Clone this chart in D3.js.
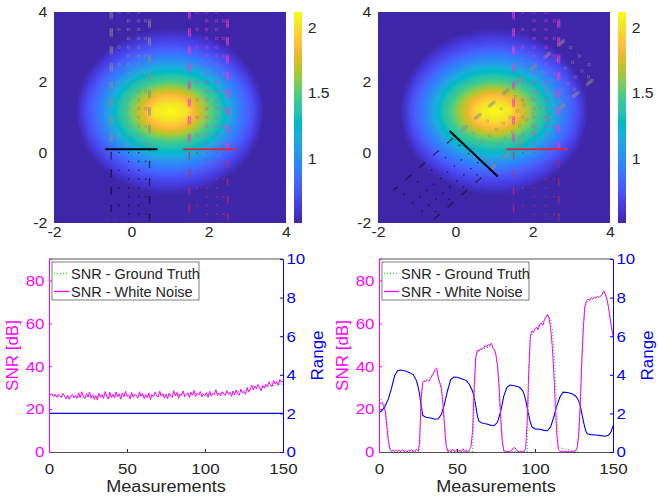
<!DOCTYPE html>
<html>
<head>
<meta charset="utf-8">
<script src="https://cdn.jsdelivr.net/npm/d3@7"></script>
<style>
  body { margin: 0; background: #fff; }
  svg { display: block; }
  text { font-family: "Liberation Sans", Arial, sans-serif; }
</style>
</head>
<body>
<svg width="658" height="497"></svg>
<script>
// ---- colour map (parula, 64 entries) ----
var parula = [
  [0.2422,0.1504,0.6603],[0.2504,0.1650,0.7076],[0.2578,0.1818,0.7511],[0.2647,0.1978,0.7952],
  [0.2706,0.2147,0.8364],[0.2751,0.2342,0.8710],[0.2783,0.2559,0.8991],[0.2803,0.2782,0.9221],
  [0.2813,0.3006,0.9414],[0.2810,0.3228,0.9579],[0.2795,0.3447,0.9717],[0.2760,0.3667,0.9829],
  [0.2699,0.3892,0.9906],[0.2602,0.4123,0.9952],[0.2440,0.4358,0.9988],[0.2206,0.4603,0.9973],
  [0.1963,0.4847,0.9892],[0.1834,0.5074,0.9798],[0.1786,0.5289,0.9682],[0.1764,0.5499,0.9520],
  [0.1687,0.5703,0.9359],[0.1540,0.5902,0.9218],[0.1460,0.6091,0.9079],[0.1380,0.6276,0.8973],
  [0.1248,0.6459,0.8883],[0.1113,0.6635,0.8763],[0.0952,0.6798,0.8598],[0.0689,0.6948,0.8394],
  [0.0297,0.7082,0.8163],[0.0036,0.7203,0.7917],[0.0067,0.7312,0.7660],[0.0433,0.7411,0.7394],
  [0.0964,0.7500,0.7120],[0.1408,0.7584,0.6842],[0.1717,0.7670,0.6554],[0.1938,0.7758,0.6251],
  [0.2161,0.7843,0.5923],[0.2470,0.7918,0.5567],[0.2906,0.7973,0.5188],[0.3406,0.8008,0.4789],
  [0.3909,0.8029,0.4354],[0.4456,0.8024,0.3909],[0.5044,0.7993,0.3480],[0.5616,0.7942,0.3045],
  [0.6174,0.7876,0.2612],[0.6720,0.7793,0.2227],[0.7242,0.7698,0.1910],[0.7738,0.7598,0.1646],
  [0.8203,0.7498,0.1535],[0.8634,0.7406,0.1596],[0.9035,0.7330,0.1774],[0.9393,0.7288,0.2100],
  [0.9728,0.7298,0.2394],[0.9956,0.7434,0.2371],[0.9970,0.7659,0.2199],[0.9952,0.7893,0.2028],
  [0.9892,0.8136,0.1885],[0.9786,0.8386,0.1766],[0.9676,0.8639,0.1643],[0.9610,0.8890,0.1537],
  [0.9597,0.9135,0.1423],[0.9628,0.9373,0.1265],[0.9691,0.9606,0.1064],[0.9769,0.9839,0.0805]];
var colorMin = 0.51, colorMax = 2.12;
var colorTicks = [1, 1.5, 2];

// ---- field: elliptical level sets ----
// level (fraction of colour range) and the half-widths of its contour along x and y
var fieldCenter = [1.0, 1.17];
var levelT  = [0,    0.13, 0.3,  0.48, 0.6,  0.83, 0.94, 1];
var levelRx = [2.43, 2.15, 1.72, 1.41, 1.12, 0.6,  0.43, 0.001];
var levelRy = [2.37, 1.9,  1.47, 1.13, 0.85, 0.47, 0.24, 0.001];

var mapTicks = [-2, 0, 2, 4];

// ---- measurement strips ----
var stripCols = [-0.52, -0.32, -0.07, 0.19, 0.37, 0.47];
var rowPitch = 0.25, rowPhase = -0.1, densePitch = 0.045, denseLen = 0.17;
var arrayHalf = 0.675;
var leftStrips = [
  {origin: [0.0, 0.1], angle: 0, scale: 1, front: "#8c8c8c", back: "#111111", line: "#000000"},
  {origin: [2.02, 0.1], angle: 0, scale: 1, front: "#f03cc8", back: "#e3263e", line: "#d92a3c"}
];
var rightStrips = [
  {origin: [0.475, -0.03], angle: -46, scale: 1.33, front: "#8c8c8c", back: "#111111", line: "#000000"},
  {origin: [2.12, 0.1], angle: 0, scale: 1.18, front: "#f03cc8", back: "#e3263e", line: "#d92a3c"}
];
var stripV = [-2.2, 3.9];

// ---- bottom-left: constant range, noisy SNR ----
var snrNoiseL = [27.5, 26.6, 27.1, 25.8, 26.9, 25.5, 27.0, 26.2, 25.4, 27.3,
  26.1, 24.8, 26.5, 24.6, 25.9, 26.8, 25.2, 26.4, 25.0, 27.6,
  25.3, 28.1, 26.0, 24.9, 27.2, 25.6, 28.0, 25.1, 26.7, 24.5,
  26.3, 24.2, 27.4, 25.5, 26.8, 25.0, 28.2, 26.1, 24.7, 27.9,
  25.4, 26.9, 25.2, 28.0, 25.8, 27.1, 24.6, 27.5, 25.7, 28.3,
  25.9, 26.6, 24.8, 27.8, 25.5, 27.0, 26.2, 25.1, 28.1, 26.0,
  27.3, 24.9, 26.8, 25.3, 27.5, 24.4, 26.7, 25.8, 27.9, 26.3,
  25.6, 28.4, 26.0, 27.2, 25.1, 26.9, 24.8, 27.4, 26.1, 25.3,
  28.6, 26.2, 27.8, 25.0, 27.1, 26.4, 28.5, 25.7, 26.8, 27.6,
  25.4, 27.9, 26.5, 28.7, 25.9, 27.3, 26.6, 28.2, 25.8, 27.0,
  26.2, 27.7, 25.6, 28.3, 26.0, 27.4, 26.8, 29.0, 26.3, 27.5,
  26.1, 28.1, 27.0, 26.4, 28.6, 26.9, 27.8, 25.9, 28.4, 26.7,
  28.9, 27.1, 26.5, 29.3, 27.6, 28.2, 26.9, 30.1, 28.0, 29.4,
  31.2, 29.0, 30.8, 29.5, 31.5, 30.2, 28.6, 31.0, 29.8, 31.6,
  30.4, 32.8, 31.0, 30.5, 33.4, 31.7, 32.9, 31.2, 33.8, 32.5, 33.0];
var truthLX = [0, 10, 20, 30, 40, 50, 60, 70, 80, 90, 100, 110, 120, 130, 140, 150];
var truthL = [26.5, 25.8, 25.7, 25.9, 26.2, 26.4, 26.5, 26.6, 26.8, 27.0, 27.2, 27.5, 28.0, 29.2, 30.6, 31.5];
var rangeLX = [0, 150];
var rangeL = [2, 2];

// ---- bottom-right: moving array ----
var snrNoiseR = [23.8, 22.6, 23.0, 21.5, 19, 12, 5, 1.2, 0.3, 0.8,
  0.2, 1.0, 0.4, 0.9, 0.2, 1.1, 0.3, 0.6, 0.1, 0.8,
  0.3, 1.2, 0.2, 0.5, 1.3, 0.4, 4, 25, 32.5, 33.2,
  32.8, 33.5, 33.0, 34.2, 35.5, 36.8, 38.5, 39.2, 34.5, 32.0,
  29.5, 22, 12, 3, 0.4, 0.9, 0.2, 1.4, 0.5, 0.3,
  1.2, 0.4, 0.7, 0.2, 1.5, 0.3, 0.6, 0.2, 1.0, 2.5,
  10, 30, 44, 47.5, 47, 48.2, 47.8, 48.5, 49.6, 48.8,
  50.2, 49.5, 50.8, 48.5, 47.6, 45, 40, 30, 16, 5,
  0.5, 0.2, 0.4, 0.1, 0.3, 0.8, 1.8, 2.0, 1.2, 0.3,
  0.1, 0.2, 0.4, 0.2, 1.5, 14, 38, 54, 56.5, 55.8,
  57.5, 58.2, 57.0, 59.5, 60.2, 59.0, 61.5, 62.8, 64.2, 62.5,
  58, 50, 38, 22, 8, 1, 0.3, 0.2, 0.5, 0.1,
  0.3, 0.2, 0.4, 0.1, 0.3, 0.2, 0.6, 2, 8, 22,
  42, 58, 68, 70.5, 71.2, 70.8, 72.0, 71.5, 72.2, 71.8,
  72.6, 72.0, 72.8, 73.5, 75.2, 73.8, 71.5, 68, 63, 58, 54];
var truthRX = [0, 2, 4, 5, 6, 7, 8, 26, 27, 28, 30, 33, 35, 37, 38, 40, 41, 42, 43, 44,
  60, 61, 62, 63, 65, 68, 70, 72, 74, 75, 76, 77, 78, 79, 80,
  95, 96, 97, 98, 100, 103, 105, 107, 108, 110, 111, 112, 113, 114, 115,
  127, 128, 129, 130, 131, 132, 134, 137, 140, 143, 144, 146, 148, 150];
var truthR = [25.8, 24, 21.5, 16, 8, 2, 0.2, 0.2, 22, 32, 33.5, 34.8, 36.5, 38, 35, 31, 26, 16, 6, 0.3,
  0.3, 22, 43, 46.5, 47.8, 48.2, 49, 49.5, 48, 46, 41, 31, 17, 6, 0.3,
  0.3, 32, 53, 56, 57, 59, 61, 63, 64, 62, 58, 50, 36, 20, 2,
  0.3, 9, 24, 44, 60, 68, 70.5, 71.5, 72, 73, 74.5, 72, 64, 55];
var rangeRX = [0, 2, 4, 6, 8, 10, 12, 14, 17, 20, 22, 24, 25, 26, 27, 28, 30, 33, 36, 38,
  40, 42, 44, 46, 48, 50, 53, 56, 58, 60, 61, 62, 63, 64, 66, 69, 72, 74, 76, 78,
  80, 82, 84, 87, 90, 92, 93, 94, 95, 96, 97, 98, 100, 103, 106, 108, 110, 112, 114, 116,
  118, 121, 124, 126, 127, 128, 129, 130, 131, 132, 133, 134, 136, 139, 142, 145, 147, 148, 149, 150];
var rangeR = [2.05, 2.15, 2.4, 2.75, 3.3, 3.95, 4.22, 4.25, 4.2, 4.1, 4.0, 3.7, 3.4, 3.0, 2.45, 1.9, 1.8, 1.76, 1.7, 1.72,
  1.95, 2.5, 3.2, 3.75, 3.88, 3.87, 3.8, 3.7, 3.5, 3.15, 2.85, 2.4, 1.9, 1.6, 1.5, 1.45, 1.38, 1.37, 1.55, 2.1,
  2.9, 3.35, 3.47, 3.43, 3.35, 3.2, 3.0, 2.7, 2.3, 1.9, 1.55, 1.3, 1.2, 1.18, 1.12, 1.1, 1.3, 1.8, 2.4, 2.85,
  3.1, 3.08, 3.0, 2.9, 2.8, 2.65, 2.4, 2.0, 1.6, 1.25, 1.0, 0.93, 0.9, 0.88, 0.85, 0.82, 0.87, 0.95, 1.1, 1.35];

var snrTicks = [0, 20, 40, 60, 80];
var rangeTicks = [0, 2, 4, 6, 8, 10];
var measTicks = [0, 50, 100, 150];
var legendLabels = ["SNR - Ground Truth", "SNR - White Noise"];

// ---------------------------------------------------------------
var svg = d3.select("svg");
var stretch = 1.13;
var defs = svg.append("defs");
var plain = function(d) { return String(d); };

var color = d3.scaleLinear()
    .domain(parula.map(function(p, i) { return colorMin + i / (parula.length - 1) * (colorMax - colorMin); }))
    .range(parula.map(function(c) { return d3.rgb(c[0] * 255, c[1] * 255, c[2] * 255); }))
    .interpolate(d3.interpolateRgb)
    .clamp(true);
var radX = d3.scaleLinear().domain(levelT).range(levelRx).clamp(true);
var radY = d3.scaleLinear().domain(levelT).range(levelRy).clamp(true);

// find the level whose contour ellipse passes through the point
function fieldLevel(px, py) {
    var dx = px - fieldCenter[0], dy = py - fieldCenter[1];
    function g(t) { var a = dx / radX(t), b = dy / radY(t); return a * a + b * b; }
    if (g(0) >= 1) return 0;
    var lo = 0, hi = 1;
    for (var n = 0; n < 22; n++) {
        var mid = (lo + hi) / 2;
        if (g(mid) < 1) lo = mid; else hi = mid;
    }
    return lo;
}

function stretchText(sel) {
    sel.attr("transform", function() {
        var t = d3.select(this).attr("transform") || "";
        return t + " scale(" + stretch + ",1)";
    });
}

function stripPoints(s) {
    var a = s.angle * Math.PI / 180,
        ux = Math.cos(a), uy = Math.sin(a), vx = -Math.sin(a), vy = Math.cos(a);
    var pts = [];
    function add(u, v) {
        if (v < stripV[0] || v > stripV[1]) return;
        pts.push({x: s.origin[0] + u * s.scale * ux + v * vx,
                  y: s.origin[1] + u * s.scale * uy + v * vy,
                  front: v > 0});
    }
    var kMin = Math.floor((stripV[0] - rowPhase) / rowPitch),
        kMax = Math.ceil((stripV[1] - rowPhase) / rowPitch);
    for (var k = kMin; k <= kMax; k++) {
        var v = rowPhase + k * rowPitch;
        var even = (k % 2 === 0);
        var cols = even ? [0, 1, 2, 3] : [2, 3, 4, 5];
        cols.forEach(function(c) { add(stripCols[c], v); });
        if (even) {
            for (var w = v - denseLen; w <= v + 1e-9; w += densePitch) add(stripCols[0], w);
            for (var w2 = v + rowPitch - denseLen; w2 <= v + rowPitch + 1e-9; w2 += densePitch) add(stripCols[5], w2);
        }
    }
    return pts;
}

function heatPanel(id, x0, x1, cbx, strips) {
    var y0 = 12, y1 = 223;
    var x = d3.scaleLinear().domain([-2, 4]).range([x0, x1]);
    var y = d3.scaleLinear().domain([-2, 4]).range([y1, y0]);
    var w = x1 - x0, h = y1 - y0;

    var cv = document.createElement("canvas");
    cv.width = w; cv.height = h;
    var ctx = cv.getContext("2d");
    var img = ctx.createImageData(w, h);
    for (var j = 0; j < h; j++) {
        for (var i = 0; i < w; i++) {
            var t = fieldLevel(x.invert(x0 + i + 0.5), y.invert(y0 + j + 0.5));
            var c = d3.rgb(color(colorMin + t * (colorMax - colorMin)));
            var o = (j * w + i) * 4;
            img.data[o] = c.r; img.data[o + 1] = c.g; img.data[o + 2] = c.b; img.data[o + 3] = 255;
        }
    }
    ctx.putImageData(img, 0, 0);
    svg.append("image").attr("x", x0).attr("y", y0).attr("width", w).attr("height", h)
        .attr("preserveAspectRatio", "none").attr("href", cv.toDataURL());

    defs.append("clipPath").attr("id", "clip" + id)
        .append("rect").attr("x", x0).attr("y", y0).attr("width", w).attr("height", h);
    var g = svg.append("g").attr("clip-path", "url(#clip" + id + ")");

    strips.forEach(function(s) {
        var pts = stripPoints(s);
        g.selectAll(null).data(pts.filter(function(p) { return p.front; })).enter()
            .append("rect")
            .attr("x", function(p) { return x(p.x) - 1.1; })
            .attr("y", function(p) { return y(p.y) - 1.1; })
            .attr("width", 2.2).attr("height", 2.2)
            .attr("fill", "none").attr("stroke", s.front)
            .attr("stroke-width", 0.7).attr("stroke-opacity", 0.6);
        g.selectAll(null).data(pts.filter(function(p) { return !p.front; })).enter()
            .append("rect")
            .attr("x", function(p) { return x(p.x) - 0.7; })
            .attr("y", function(p) { return y(p.y) - 0.7; })
            .attr("width", 1.4).attr("height", 1.4)
            .attr("fill", s.back).attr("fill-opacity", 0.75);
    });
    strips.forEach(function(s) {
        var a = s.angle * Math.PI / 180, L = arrayHalf * s.scale;
        g.append("line")
            .attr("x1", x(s.origin[0] - L * Math.cos(a))).attr("y1", y(s.origin[1] - L * Math.sin(a)))
            .attr("x2", x(s.origin[0] + L * Math.cos(a))).attr("y2", y(s.origin[1] + L * Math.sin(a)))
            .attr("stroke", s.line).attr("stroke-width", 2);
    });

    var gx = svg.append("g").attr("transform", "translate(0," + y1 + ")")
        .call(d3.axisBottom(x).tickValues(mapTicks).tickFormat(plain).tickSize(0).tickPadding(4));
    var gy = svg.append("g").attr("transform", "translate(" + x0 + ",0)")
        .call(d3.axisLeft(y).tickValues(mapTicks).tickFormat(plain).tickSize(0).tickPadding(6));
    [gx, gy].forEach(function(ga) {
        ga.select(".domain").remove();
        ga.selectAll("text").attr("font-size", 14).style("font-family", null).attr("fill", "#262626");
        stretchText(ga.selectAll("text"));
    });

    // colour bar
    var cb = d3.scaleLinear().domain([colorMin, colorMax]).range([y1, y0]);
    var cc = document.createElement("canvas");
    cc.width = 1; cc.height = h;
    var cctx = cc.getContext("2d");
    for (var k = 0; k < h; k++) {
        cctx.fillStyle = color(cb.invert(y0 + k + 0.5));
        cctx.fillRect(0, k, 1, 1);
    }
    svg.append("image").attr("x", cbx).attr("y", y0).attr("width", 8).attr("height", h)
        .attr("preserveAspectRatio", "none").attr("href", cc.toDataURL());
    var gc = svg.append("g").attr("transform", "translate(" + (cbx + 8) + ",0)")
        .call(d3.axisRight(cb).tickValues(colorTicks).tickFormat(plain).tickSize(0).tickPadding(5));
    gc.select(".domain").remove();
    gc.selectAll("text").attr("font-size", 14).style("font-family", null).attr("fill", "#262626");
    stretchText(gc.selectAll("text"));
}

heatPanel("L", 54, 286, 294, leftStrips);
heatPanel("R", 378, 610, 618, rightStrips);

function linePanel(x0, x1, noise, tX, truth, rX, range) {
    var y0 = 259, y1 = 452;
    var x = d3.scaleLinear().domain([0, 150]).range([x0, x1]);
    var ys = d3.scaleLinear().domain([0, 90]).range([y1, y0]);
    var yr = d3.scaleLinear().domain([0, 10]).range([y1, y0]);

    svg.append("path").datum(rX.map(function(d, i) { return [d, range[i]]; }))
        .attr("fill", "none").attr("stroke", "#0000ff").attr("stroke-width", 1.1)
        .attr("d", d3.line().x(function(d) { return x(d[0]); }).y(function(d) { return yr(d[1]); }));
    svg.append("path").datum(tX.map(function(d, i) { return [d, truth[i]]; }))
        .attr("fill", "none").attr("stroke", "#3fdc3f").attr("stroke-width", 1.2)
        .attr("stroke-dasharray", "1.2,1.8")
        .attr("d", d3.line().x(function(d) { return x(d[0]); }).y(function(d) { return ys(d[1]); }));
    svg.append("path").datum(noise)
        .attr("fill", "none").attr("stroke", "#ff00ff").attr("stroke-width", 1)
        .attr("d", d3.line().x(function(d, i) { return x(i); }).y(function(d) { return ys(d); }));

    // frame
    svg.append("line").attr("x1", x0).attr("x2", x1).attr("y1", y0).attr("y2", y0)
        .attr("stroke", "#262626").attr("stroke-width", 0.8);
    var gb = svg.append("g").attr("transform", "translate(0," + y1 + ")")
        .call(d3.axisBottom(x).tickValues(measTicks).tickFormat(plain).tickSize(-3).tickPadding(11));
    gb.select(".domain").attr("stroke", "#262626").attr("stroke-width", 0.8);
    gb.selectAll(".tick line").attr("stroke", "#262626");
    gb.selectAll("text").attr("font-size", 15).style("font-family", null).attr("fill", "#262626");
    stretchText(gb.selectAll("text"));

    var gl = svg.append("g").attr("transform", "translate(" + x0 + ",0)")
        .call(d3.axisLeft(ys).tickValues(snrTicks).tickFormat(plain).tickSize(-3).tickPadding(4));
    gl.select(".domain").attr("stroke", "#ff00ff");
    gl.selectAll(".tick line").attr("stroke", "#ff00ff");
    gl.selectAll("text").attr("font-size", 15).style("font-family", null).attr("fill", "#ff00ff");
    stretchText(gl.selectAll("text"));

    var gr = svg.append("g").attr("transform", "translate(" + x1 + ",0)")
        .call(d3.axisRight(yr).tickValues(rangeTicks).tickFormat(plain).tickSize(-3).tickPadding(3));
    gr.select(".domain").attr("stroke", "#0000ff");
    gr.selectAll(".tick line").attr("stroke", "#0000ff");
    gr.selectAll("text").attr("font-size", 15).style("font-family", null).attr("fill", "#0000ff");
    stretchText(gr.selectAll("text"));

    svg.append("text").attr("transform", "translate(" + ((x0 + x1) / 2) + ",492) scale(" + stretch + ",1)")
        .attr("text-anchor", "middle").attr("font-size", 16).attr("fill", "#262626").text("Measurements");
    svg.append("text").attr("transform", "translate(" + (x0 - 31) + "," + ((y0 + y1) / 2) + ") rotate(-90)")
        .attr("text-anchor", "middle").attr("font-size", 17).attr("fill", "#ff00ff").text("SNR [dB]");
    svg.append("text").attr("transform", "translate(" + (x1 + 40) + "," + ((y0 + y1) / 2) + ") rotate(-90)")
        .attr("text-anchor", "middle").attr("font-size", 17).attr("fill", "#0000ff").text("Range");

    // legend
    var lg = svg.append("g").attr("transform", "translate(" + (x0 + 3) + "," + (y0 + 3) + ")");
    lg.append("rect").attr("width", 147).attr("height", 38).attr("fill", "#ffffff")
        .attr("stroke", "#262626").attr("stroke-width", 0.6);
    lg.append("line").attr("x1", 2).attr("x2", 17).attr("y1", 11.5).attr("y2", 11.5)
        .attr("stroke", "#3fdc3f").attr("stroke-width", 1.3).attr("stroke-dasharray", "1.2,1.8");
    lg.append("line").attr("x1", 2).attr("x2", 17).attr("y1", 29.5).attr("y2", 29.5)
        .attr("stroke", "#ff00ff").attr("stroke-width", 1.3);
    legendLabels.forEach(function(t, i) {
        lg.append("text").attr("x", 19).attr("y", 16.5 + i * 18)
            .attr("font-size", 14.5).attr("fill", "#262626").text(t);
    });
}

linePanel(49, 283, snrNoiseL, truthLX, truthL, rangeLX, rangeL);
linePanel(379, 613, snrNoiseR, truthRX, truthR, rangeRX, rangeR);
</script>
</body>
</html>
